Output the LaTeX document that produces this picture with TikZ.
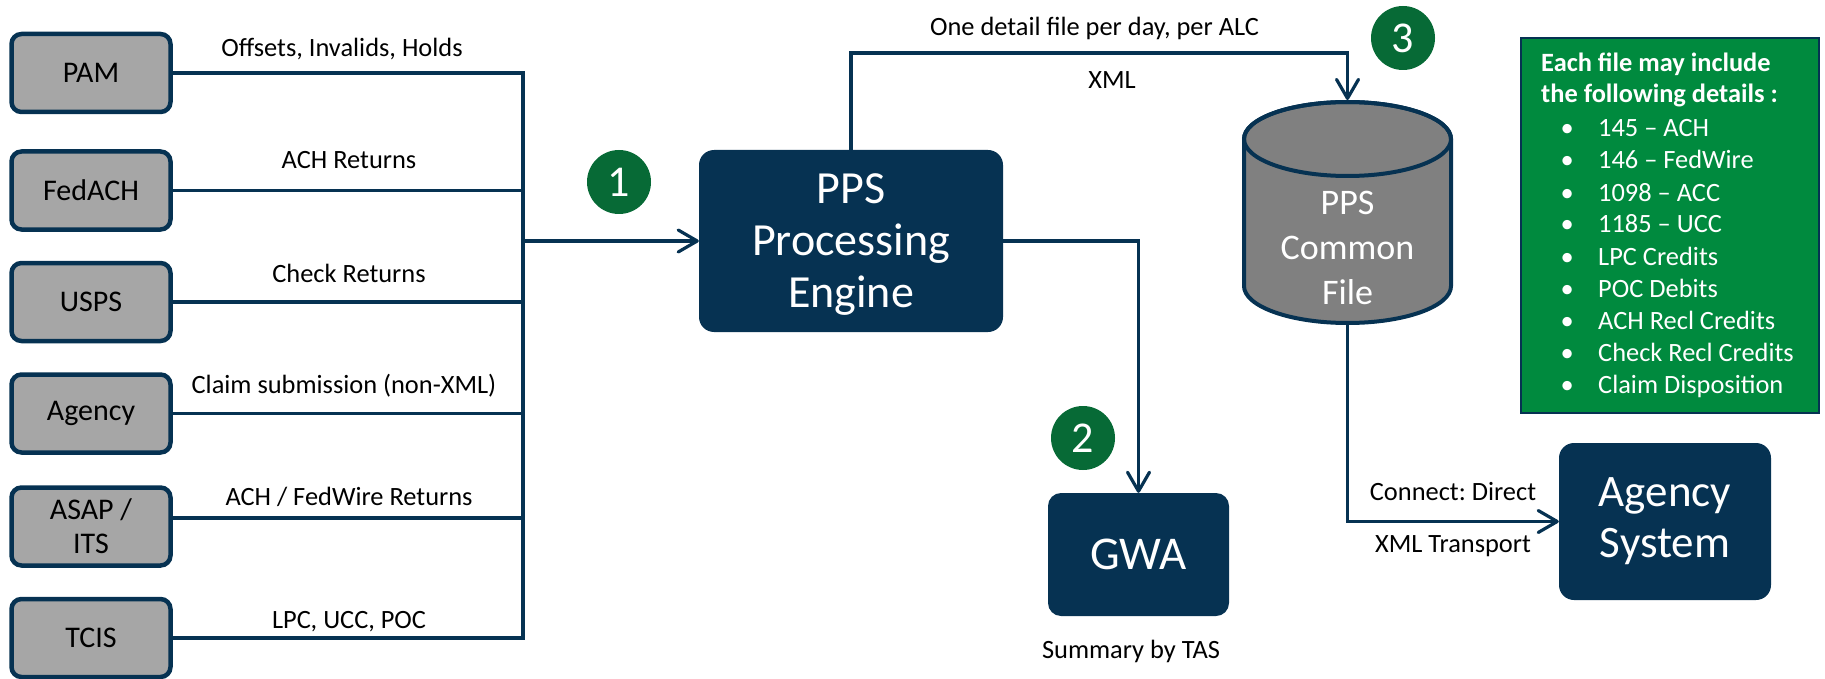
\documentclass[tikz,border=0pt]{standalone}
\usepackage{fontspec}
\setmainfont{Carlito}
\usetikzlibrary{arrows.meta}
\definecolor{navy}{RGB}{6,50,82}
\definecolor{srcgray}{RGB}{166,166,166}
\definecolor{cylgray}{RGB}{128,128,128}
\definecolor{boxgreen}{RGB}{0,138,62}
\definecolor{badgegreen}{RGB}{7,106,54}
\frenchspacing
\begin{document}
\begin{tikzpicture}[x=1pt,y=-1pt,
  src/.style={draw=navy, line width=4.5pt, fill=srcgray, rounded corners=10pt,
    minimum width=159pt, minimum height=78pt, inner sep=0pt, align=center,
    text=black, font=\fontsize{30}{34}\selectfont},
  dark/.style={fill=navy, rounded corners=15pt, inner sep=0pt, text=white, align=center},
  lbl/.style={font=\fontsize{26.4}{32}\selectfont, anchor=base, inner sep=0pt, text=black},
  conn/.style={draw=navy, line width=3.2pt},
  arr/.style={conn, -{Straight Barb[length=19pt,width=22pt,round]}},
  badge/.style={circle, fill=badgegreen, minimum size=64pt, inner sep=0pt,
    text=white, font=\fontsize{44}{44}\selectfont},
  wtxt/.style={anchor=base west, inner sep=0pt, text=white, font=\fontsize{26.4}{32}\selectfont}
]
\useasboundingbox (0,0) rectangle (1825,679);

% source boxes
\node[src] (pam) at (91,73) {PAM};
\node[src] (fedach) at (91,190.5) {FedACH};
\node[src] (usps) at (91,302) {USPS};
\node[src] (agency) at (91,413.5) {Agency};
\node[src] (asap) at (91,526.5) {ASAP /\\ITS};
\node[src] (tcis) at (91,638) {TCIS};

% bus
\coordinate (busT) at (523,73);
\coordinate (busB) at (523,638);
\draw[conn] (pam.east) -- (busT) -- (busB) -- (tcis.east);
\draw[conn] (fedach.east) -- (fedach.east -| busT);
\draw[conn] (usps.east) -- (usps.east -| busT);
\draw[conn] (agency.east) -- (agency.east -| busT);
\draw[conn] ([yshift=8.5pt]asap.east) -- ([yshift=8.5pt]asap.east -| busT);

% bus labels
\node[lbl] (l1) at (342,57) {Offsets, Invalids, Holds};
\node[lbl] (l2) at (349,169) {ACH Returns};
\node[lbl] (l3) at (349,282) {Check Returns};
\node[lbl] (l4) at (344,393) {Claim submission (non-XML)};
\node[lbl] (l5) at (349,505) {ACH / FedWire Returns};
\node[lbl] (l6) at (349,628) {LPC, UCC, POC};

% main boxes
\node[dark, minimum width=304pt, minimum height=182pt, font=\fontsize{46}{52}\selectfont]
  (pps) at (851,241) {\rule{0pt}{36pt}PPS\\Processing\\Engine};
\node[dark, minimum width=181pt, minimum height=123pt, rounded corners=13pt,
  font=\fontsize{47}{50}\selectfont] (gwa) at (1138.5,554.5) {GWA};
\node[dark, minimum width=212pt, minimum height=157pt, font=\fontsize{45}{51}\selectfont]
  (agsys) at (1665,521.5) {Agency\\System};

% cylinder
\path[draw=navy, fill=cylgray, line width=4pt] (1244,139) -- (1244,286)
  arc[start angle=180, end angle=0, x radius=103.5, y radius=37] -- (1451,139)
  arc[start angle=0, end angle=-180, x radius=103.5, y radius=37] -- cycle;
\draw[navy, line width=4pt] (1347.5,139) ellipse[x radius=103.5, y radius=37];
\node[text=white, align=center, inner sep=0pt, font=\fontsize{36}{45}\selectfont]
  (pcf) at (1347.5,248.4) {PPS\\Common\\File};
\coordinate (cylTop) at (1347.5,100);
\coordinate (cylBot) at (1347.5,323);

% connectors
\draw[arr] (busT |- pps.west) -- (pps.west);
\coordinate (topL) at (851,53);
\coordinate (topR) at (1347.5,53);
\draw[arr] (pps.north) -- (topL) -- (topR) -- (cylTop);
\draw[arr] (pps.east) -- (pps.east -| gwa.north) -- (gwa.north);
\draw[arr] (cylBot) -- (cylBot |- agsys.west) -- (agsys.west);

\node[lbl] (l7) at (1094.5,36) {One detail file per day, per ALC};
\node[lbl] (l8) at (1112,89) {XML};
\node[lbl] (l9) at (1131,658) {Summary by TAS};
\node[lbl] (l10) at (1453,500) {Connect: Direct};
\node[lbl] (l11) at (1453,552) {XML Transport};

% badges
\node[badge] (b1) at (619,182) {1};
\node[badge] (b2) at (1083,438) {2};
\node[badge] (b3) at (1403,38) {3};

% details box
\node[draw=navy, line width=1.5pt, fill=boxgreen, minimum width=298pt,
  minimum height=375pt, inner sep=0pt] (details) at (1670,225.5) {};
\node[wtxt, font=\bfseries\fontsize{26.4}{32}\selectfont] (t1) at (1541,72) {Each file may include};
\node[wtxt, font=\bfseries\fontsize{26.4}{32}\selectfont] (t2) at (1541,103) {the following details :};
\foreach \t [count=\i] in {145 – ACH, 146 – FedWire, 1098 – ACC, 1185 – UCC,
  LPC Credits, POC Debits, ACH Recl Credits, Check Recl Credits, Claim Disposition}
  \node[wtxt] (item\i) at (1567,105+32*\i) {\makebox[0pt]{\textbullet}\hspace{31pt}\t};
\end{tikzpicture}
\end{document}
